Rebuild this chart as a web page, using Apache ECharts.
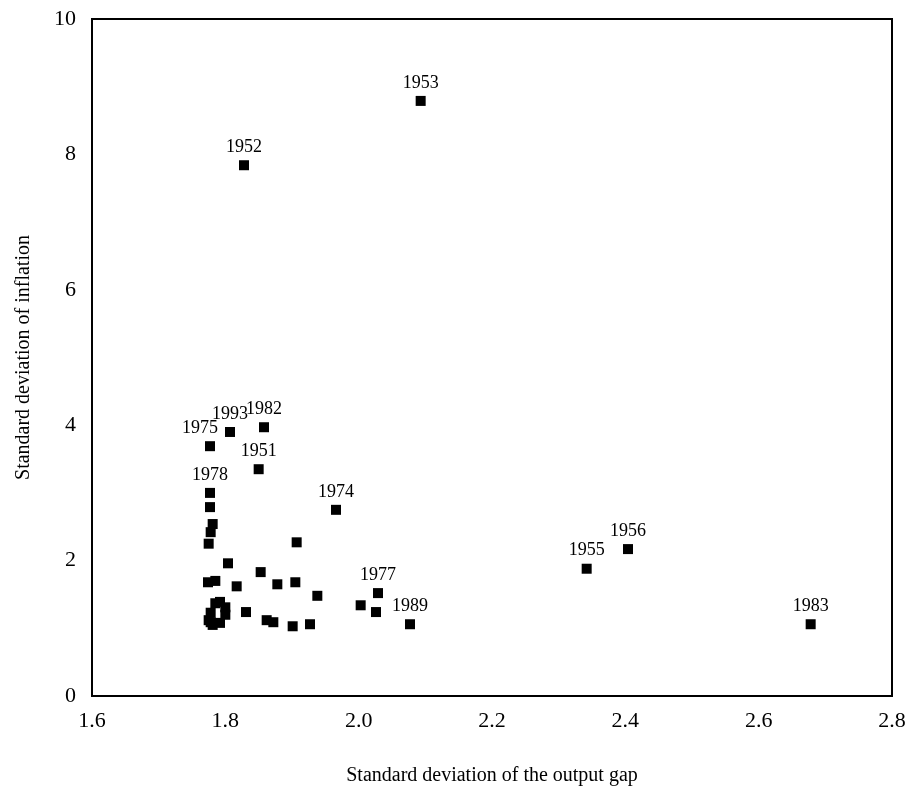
<!DOCTYPE html>
<html>
<head>
<meta charset="utf-8">
<script src="https://cdn.jsdelivr.net/npm/echarts@6/dist/echarts.min.js"></script>
<style>html,body{margin:0;padding:0;background:#fff;}#c{width:910px;height:791px;}</style>
</head>
<body>
<div id="c"></div>
<script>
// Labeled points
const labeledYears = ['1953','1952','1993','1982','1975','1951','1978','1974','1956','1955','1977','1989','1983'];
const labeledX = [2.093, 1.828, 1.807, 1.858, 1.777, 1.850, 1.777, 1.966, 2.404, 2.342, 2.029, 2.077, 2.678];
const labeledY = [8.79, 7.84, 3.90, 3.97, 3.69, 3.35, 3.00, 2.75, 2.17, 1.88, 1.52, 1.06, 1.06];
// Unlabeled points
const otherX = [1.777, 1.781, 1.778, 1.775, 1.907, 1.804, 1.853, 1.774, 1.785, 1.817, 1.878, 1.905, 1.938, 2.003, 2.026, 1.831, 1.862, 1.872, 1.901, 1.927,
                1.778, 1.778, 1.785, 1.792, 1.800, 1.800, 1.792, 1.781, 1.775];
const otherY = [2.79, 2.54, 2.42, 2.25, 2.27, 1.96, 1.83, 1.68, 1.70, 1.62, 1.65, 1.68, 1.48, 1.34, 1.24, 1.24, 1.12, 1.09, 1.03, 1.06,
                1.09, 1.23, 1.37, 1.39, 1.31, 1.20, 1.08, 1.05, 1.12];
const xTicks = ['1.6','1.8','2.0','2.2','2.4','2.6','2.8'];
const yTicks = ['0','2','4','6','8','10'];

const font = 'Liberation Serif';
const labeledData = labeledX.map((x, i) => {
  const d = { value: [x, labeledY[i]], name: labeledYears[i] };
  if (labeledYears[i] === '1975') d.label = { offset: [-10, 0] };
  return d;
});
const otherData = otherX.map((x, i) => [x, otherY[i]]);

const chart = echarts.init(document.getElementById('c'));
chart.setOption({
  animation: false,
  backgroundColor: '#fff',
  grid: { left: 92, right: 18, top: 19, bottom: 95, show: true, borderColor: '#000', borderWidth: 2, backgroundColor: 'transparent' },
  xAxis: {
    type: 'value', min: 1.6, max: 2.8, interval: 0.2,
    name: 'Standard deviation of the output gap', nameLocation: 'middle', nameGap: 70,
    nameTextStyle: { fontFamily: font, fontSize: 20, color: '#000' },
    axisLine: { show: true, lineStyle: { color: '#000', width: 2 } },
    axisTick: { show: false }, splitLine: { show: false },
    axisLabel: { fontFamily: font, fontSize: 22, color: '#000', margin: 14,
      formatter: v => xTicks[Math.round((v - 1.6) / 0.2)] }
  },
  yAxis: {
    type: 'value', min: 0, max: 10, interval: 2,
    name: 'Standard deviation of inflation', nameLocation: 'middle', nameGap: 58,
    nameTextStyle: { fontFamily: font, fontSize: 20, color: '#000' },
    axisLine: { show: true, lineStyle: { color: '#000', width: 2 } },
    axisTick: { show: false }, splitLine: { show: false },
    axisLabel: { fontFamily: font, fontSize: 22, color: '#000', margin: 16,
      formatter: v => yTicks[Math.round(v / 2)] }
  },
  series: [
    {
      type: 'scatter', symbol: 'rect', symbolSize: 10,
      itemStyle: { color: '#000', opacity: 1 },
      data: otherData, z: 2
    },
    {
      type: 'scatter', symbol: 'rect', symbolSize: 10,
      itemStyle: { color: '#000', opacity: 1 },
      label: { show: true, position: 'top', distance: 4, formatter: p => p.name,
        fontFamily: font, fontSize: 18, color: '#000' },
      data: labeledData, z: 3
    }
  ]
});
</script>
</body>
</html>
